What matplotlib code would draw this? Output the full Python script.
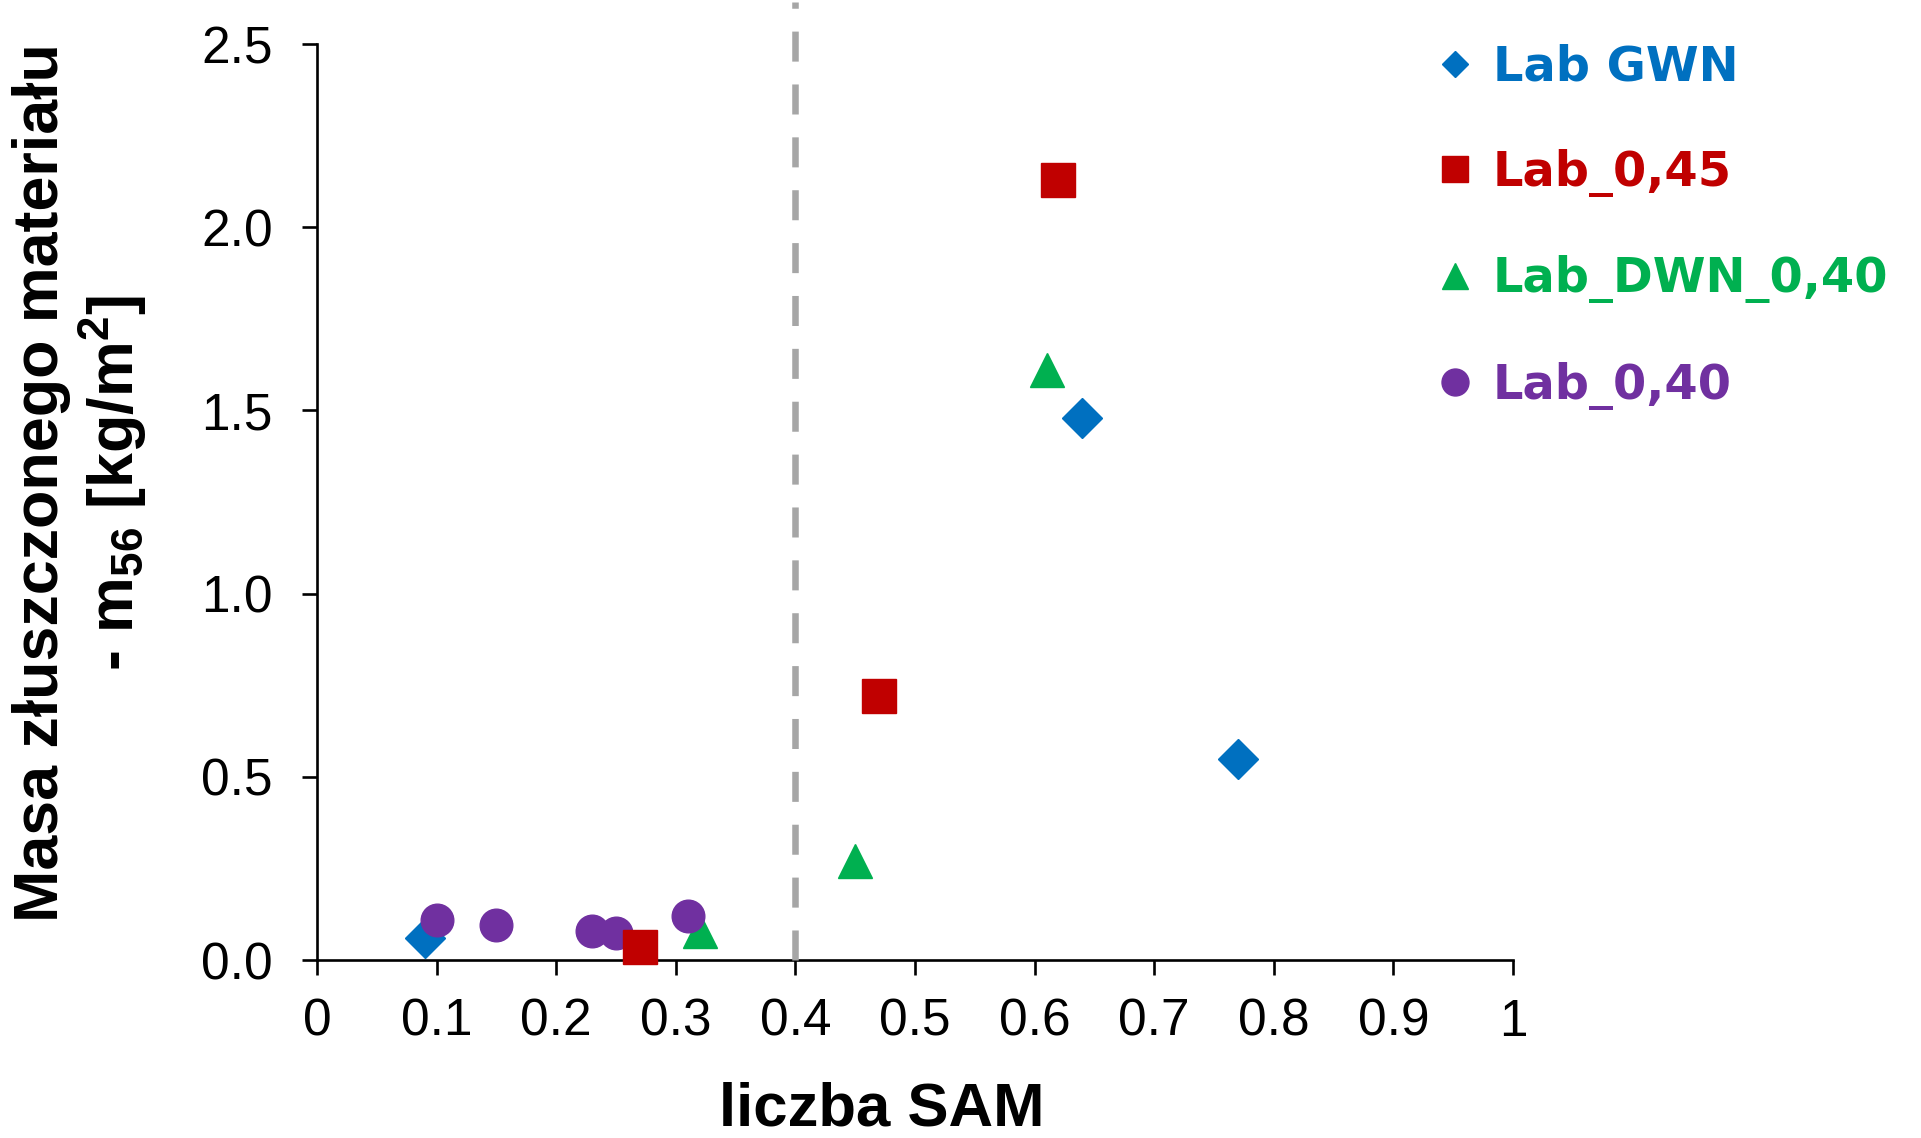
import matplotlib.pyplot as plt
from matplotlib.lines import Line2D

plt.rcParams['font.family'] = 'Liberation Sans'
plt.rcParams['mathtext.fontset'] = 'custom'
plt.rcParams['mathtext.rm'] = 'Liberation Sans:bold'
plt.rcParams['mathtext.default'] = 'rm'

# liczba SAM / masa złuszczonego materiału m56 [kg/m2]
gwn_sam = [0.09, 0.64, 0.77]
gwn_mass = [0.06, 1.48, 0.55]

lab045_sam = [0.27, 0.47, 0.62]
lab045_mass = [0.035, 0.72, 2.13]

dwn040_sam = [0.32, 0.45, 0.61]
dwn040_mass = [0.08, 0.27, 1.61]

lab040_sam = [0.10, 0.15, 0.23, 0.25, 0.31]
lab040_mass = [0.11, 0.095, 0.078, 0.075, 0.12]

series_labels = ['Lab GWN', 'Lab_0,45', 'Lab_DWN_0,40', 'Lab_0,40']
sam_limit = 0.4

x_ticks = [0, 0.1, 0.2, 0.3, 0.4, 0.5, 0.6, 0.7, 0.8, 0.9, 1]
x_tick_labels = ['0', '0.1', '0.2', '0.3', '0.4', '0.5', '0.6', '0.7', '0.8', '0.9', '1']
y_ticks = [0.0, 0.5, 1.0, 1.5, 2.0, 2.5]
y_tick_labels = ['0.0', '0.5', '1.0', '1.5', '2.0', '2.5']

blue = '#0070C0'
red = '#C00000'
green = '#00B050'
purple = '#7030A0'

fig = plt.figure(figsize=(19.21, 11.38), dpi=100)
ax = fig.add_axes([0.1650, 0.1564, 0.6226, 0.8049])

# granica SAM = 0.4
ax.plot([sam_limit, sam_limit], [0, 2.615], color='#A6A6A6', lw=4.7,
        linestyle=(0, (4.6, 3.5)), dash_capstyle='butt', clip_on=False, zorder=3)

ax.plot(gwn_sam, gwn_mass, linestyle='none', marker='D', ms=20, color=blue,
        mew=1, zorder=4, clip_on=False)
ax.plot(dwn040_sam, dwn040_mass, linestyle='none', marker='^', ms=24.5, color=green,
        mew=1, zorder=5, clip_on=False)
ax.plot(lab040_sam, lab040_mass, linestyle='none', marker='o', ms=23.5, color=purple,
        mew=1, zorder=6, clip_on=False)
ax.plot(lab045_sam, lab045_mass, linestyle='none', marker='s', ms=25, color=red,
        mew=1, zorder=7, clip_on=False)

ax.set_xlim(0, 1)
ax.set_ylim(0, 2.5)
ax.set_xticks(x_ticks)
ax.set_xticklabels(x_tick_labels)
ax.set_yticks(y_ticks)
ax.set_yticklabels(y_tick_labels)

for side in ['top', 'right']:
    ax.spines[side].set_visible(False)
for side in ['left', 'bottom']:
    ax.spines[side].set_linewidth(1.9)
    ax.spines[side].set_color('black')

ax.tick_params(axis='both', direction='out', length=11, width=1.9, labelsize=37, colors='black')
ax.tick_params(axis='x', pad=16)
ax.tick_params(axis='y', pad=21)

fig.text(0.459, 1 - 1125 / 1138, 'liczba SAM', ha='center', va='baseline',
         fontsize=44.5, fontweight='bold')
fig.text(0.0418, 0.576, 'Masa złuszczonego materiału\n- m$_{56}$ [kg/m$^{2}$]',
         rotation=90, ha='center', va='center', multialignment='center',
         fontsize=45.2, fontweight='bold', linespacing=1.12)

handles = [
    Line2D([], [], linestyle='none', marker='D', ms=13.7, color=blue),
    Line2D([], [], linestyle='none', marker='s', ms=19.4, color=red),
    Line2D([], [], linestyle='none', marker='^', ms=19.4, color=green),
    Line2D([], [], linestyle='none', marker='o', ms=19.4, color=purple),
]
fig.legend(handles, series_labels, loc='upper left', bbox_to_anchor=(0.7348, 0.9787),
           frameon=False, handlelength=1.0, handletextpad=0.3, labelspacing=1.22,
           borderpad=0.4, borderaxespad=0,
           prop=dict(family='DejaVu Sans', weight='bold', size=34.5),
           labelcolor=[blue, red, green, purple])

fig.savefig('out.png', dpi=100)
